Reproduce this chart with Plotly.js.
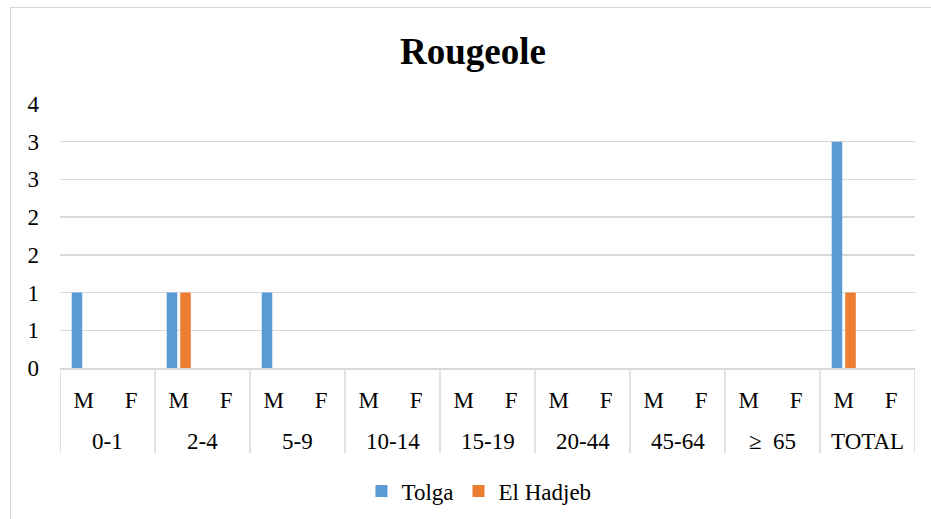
<!DOCTYPE html>
<html>
<head>
<meta charset="utf-8">
<script src="https://cdn.plot.ly/plotly-3.0.1.min.js"></script>
<style>
  html, body { margin: 0; padding: 0; background: #fff; }
  #wrap { position: relative; width: 931px; height: 519px; overflow: hidden; }
  #frame { position: absolute; left: 10px; top: 7px; width: 940px; height: 540px;
           border-left: 1.5px solid #d9d9d9; border-top: 1.5px solid #d9d9d9; box-sizing: border-box; pointer-events: none; }
  #chart { position: absolute; left: 0; top: 0; width: 931px; height: 519px; }
</style>
</head>
<body>
<div id="wrap">
  <div id="chart"></div>
  <div id="frame"></div>
</div>
<script>
const ageGroups = ['0-1', '2-4', '5-9', '10-14', '15-19', '20-44', '45-64', '≥  65', 'TOTAL'];
const sexes = ['M', 'F'];
// values per (age group, sex) in order: 0-1 M, 0-1 F, 2-4 M, 2-4 F, ...
const tolga    = [1, 0, 1, 0, 1, 0, 0, 0, 0, 0, 0, 0, 0, 0, 0, 0, 3, 0];
const elHadjeb = [0, 0, 1, 0, 0, 0, 0, 0, 0, 0, 0, 0, 0, 0, 0, 0, 1, 0];
const yTickVals = [0, 0.5, 1, 1.5, 2, 2.5, 3, 3.5];
const yTickText = ['0', '1', '1', '2', '2', '3', '3', '4'];

// one category per (age group, sex) slot
const xCats = [], xText = [];
ageGroups.forEach(g => sexes.forEach(s => { xCats.push(g + ' ' + s); xText.push(s); }));

const font = 'Liberation Serif';
const grey = '#d9d9d9';
const fs = 23;

const traces = [
  { type: 'bar', name: 'Tolga', x: xCats, y: tolga,
    marker: { color: '#5b9bd5', line: { width: 0 } } },
  { type: 'bar', name: 'El Hadjeb', x: xCats, y: elHadjeb,
    marker: { color: '#ed7d31', line: { width: 0 } } }
];

// group labels under the M/F row, and vertical dividers between groups
const nPer = sexes.length;
const annotations = ageGroups.map((g, i) => ({
  text: g, xref: 'x', yref: 'paper', x: i * nPer + (nPer - 1) / 2, y: -0.28,
  xanchor: 'center', yanchor: 'middle', showarrow: false,
  font: { family: font, size: fs, color: '#000' }
}));
const shapes = [];
for (let i = 0; i <= ageGroups.length; i++) {
  shapes.push({ type: 'line', xref: 'x', yref: 'paper', x0: i * nPer - 0.5, x1: i * nPer - 0.5,
                y0: 0, y1: -0.322, line: { color: grey, width: 1.5 } });
}

const layout = {
  width: 931, height: 519,
  paper_bgcolor: 'rgba(0,0,0,0)', plot_bgcolor: '#fff',
  margin: { l: 60, r: 16, t: 104, b: 151, autoexpand: false },
  font: { family: font, size: fs, color: '#000' },
  title: { text: '<b>Rougeole</b>', font: { family: font, size: 37, color: '#000' },
           x: 0.508, xanchor: 'center', yref: 'container', y: 0.902, yanchor: 'middle' },
  barmode: 'group', bargap: 0.43, bargroupgap: 0.22,
  showlegend: true,
  legend: { orientation: 'h', x: 0.49, xanchor: 'center', yref: 'container', y: 0.054, yanchor: 'middle',
            font: { family: font, size: fs, color: '#000' } },
  annotations: annotations,
  shapes: shapes,
  xaxis: {
    type: 'category', range: [-0.5, xCats.length - 0.5],
    tickvals: xCats, ticktext: xText, automargin: false,
    showgrid: false, zeroline: false,
    showline: true, linecolor: grey, linewidth: 1.5,
    ticks: '', ticklabelstandoff: 11,
    tickfont: { family: font, size: fs, color: '#000' }
  },
  yaxis: {
    range: [0, 3.5], tickvals: yTickVals, ticktext: yTickText, automargin: false,
    showgrid: true, gridcolor: grey, gridwidth: 1.5, zeroline: false,
    showline: false, ticks: '', ticklabelstandoff: 20,
    tickfont: { family: font, size: fs, color: '#000' }
  }
};

Plotly.newPlot('chart', traces, layout, { displayModeBar: false, staticPlot: true });
</script>
</body>
</html>
